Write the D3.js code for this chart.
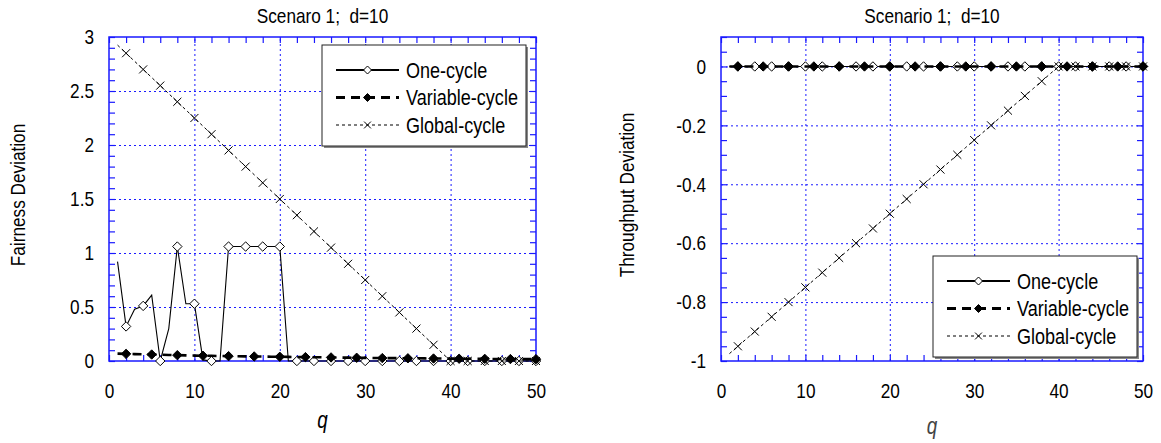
<!DOCTYPE html>
<html>
<head>
<meta charset="utf-8">
<script src="https://cdn.jsdelivr.net/npm/d3@7/dist/d3.min.js"></script>
<style>
body { margin: 0; background: #fff; }
text { font-family: "Liberation Sans", Arial, sans-serif; fill: #000; }
</style>
</head>
<body>
<script>
// q = 1..50
var q = d3.range(1, 51);

var fairOne = [0.92, 0.32, 0.48, 0.51, 0.61, 0, 0.30, 1.06, 0.53, 0.53,
    0.01, 0, 0, 1.06, 1.06, 1.06, 1.06, 1.06, 1.06, 1.06,
    0, 0, 0, 0, 0, 0, 0, 0, 0, 0,
    0, 0, 0, 0, 0, 0, 0, 0, 0, 0,
    0, 0, 0, 0, 0, 0, 0, 0, 0, 0];
var fairVar = [0.068, 0.066, 0.064, 0.062, 0.060, 0.058, 0.056, 0.054, 0.052, 0.050,
    0.049, 0.048, 0.046, 0.045, 0.044, 0.043, 0.042, 0.041, 0.040, 0.039,
    0.038, 0.037, 0.036, 0.035, 0.034, 0.033, 0.032, 0.031, 0.030, 0.029,
    0.028, 0.027, 0.027, 0.026, 0.025, 0.025, 0.024, 0.023, 0.023, 0.022,
    0.021, 0.021, 0.020, 0.020, 0.019, 0.019, 0.018, 0.018, 0.017, 0.017];
var fairGlob = [2.925, 2.85, 2.775, 2.7, 2.625, 2.55, 2.475, 2.4, 2.325, 2.25,
    2.175, 2.1, 2.025, 1.95, 1.875, 1.8, 1.725, 1.65, 1.575, 1.5,
    1.425, 1.35, 1.275, 1.2, 1.125, 1.05, 0.975, 0.9, 0.825, 0.75,
    0.675, 0.6, 0.525, 0.45, 0.375, 0.3, 0.225, 0.15, 0.075, 0,
    0, 0, 0, 0, 0, 0, 0, 0, 0, 0];

var thrOne = [0, 0, 0, 0, 0, 0, 0, 0, 0, 0,
    0, 0, 0, 0, 0, 0, 0, 0, 0, 0,
    0, 0, 0, 0, 0, 0, 0, 0, 0, 0,
    0, 0, 0, 0, 0, 0, 0, 0, 0, 0,
    0, 0, 0, 0, 0, 0, 0, 0, 0, 0];
var thrVar = [0, 0, 0, 0, 0, 0, 0, 0, 0, 0,
    0, 0, 0, 0, 0, 0, 0, 0, 0, 0,
    0, 0, 0, 0, 0, 0, 0, 0, 0, 0,
    0, 0, 0, 0, 0, 0, 0, 0, 0, 0,
    0, 0, 0, 0, 0, 0, 0, 0, 0, 0];
var thrGlob = [-0.975, -0.95, -0.925, -0.9, -0.875, -0.85, -0.825, -0.8, -0.775, -0.75,
    -0.725, -0.7, -0.675, -0.65, -0.625, -0.6, -0.575, -0.55, -0.525, -0.5,
    -0.475, -0.45, -0.425, -0.4, -0.375, -0.35, -0.325, -0.3, -0.275, -0.25,
    -0.225, -0.2, -0.175, -0.15, -0.125, -0.1, -0.075, -0.05, -0.025, 0,
    0, 0, 0, 0, 0, 0, 0, 0, 0, 0];

var seriesNames = ["One-cycle", "Variable-cycle", "Global-cycle"];
var xTicks = [0, 10, 20, 30, 40, 50];
var fairTicks = [0, 0.5, 1, 1.5, 2, 2.5, 3];
var thrTicks = [0, -0.2, -0.4, -0.6, -0.8, -1];

var blue = "#1a1aff";
var squeeze = 0.82; // the original figure text is condensed

// square diamond (matlab style)
var diamond = {
    draw: function(ctx, size) {
        var r = Math.sqrt(size / 2);
        ctx.moveTo(0, -r); ctx.lineTo(r, 0); ctx.lineTo(0, r); ctx.lineTo(-r, 0); ctx.closePath();
    }
};

var styles = [
    {width: 1.1, dash: null, legendWidth: 2, sym: diamond, size: 44, fill: "#fff", every: function(i) { return (i + 1) % 2 == 0; }},
    {width: 2.6, dash: "9,6", legendWidth: 2.8, sym: diamond, size: 44, fill: "#000", every: function(i) { return (i + 1) % 3 == 2; }},
    {width: 1, dash: "3,3", legendWidth: 1.2, sym: d3.symbolX, size: 44, fill: "none", every: function(i) { return (i + 1) % 2 == 0; }}
];

// condense text horizontally around its anchor
function narrow(sel) {
    sel.each(function() {
        var t = d3.select(this),
            x = +t.attr("x") || 0,
            y = +t.attr("y") || 0,
            tr = t.attr("transform") || "";
        t.attr("x", 0).attr("y", 0)
            .attr("transform", tr + " translate(" + x + "," + y + ") scale(" + squeeze + ",1)");
    });
}

var svg = d3.select("body").append("svg")
    .attr("width", 1161).attr("height", 443);

function panel(p) {
    var x = d3.scaleLinear().domain([0, 50]).range([p.left, p.right]),
        y = d3.scaleLinear().domain(p.ydom).range([p.bottom, p.top]),
        w = p.right - p.left,
        h = p.bottom - p.top,
        g = svg.append("g");

    // grid
    g.append("g").attr("transform", "translate(0," + p.bottom + ")")
        .call(d3.axisBottom(x).tickValues([10, 20, 30, 40]).tickSize(-h).tickFormat(""))
        .call(function(a) { a.select(".domain").remove(); })
        .selectAll("line").attr("stroke", blue).attr("stroke-dasharray", "2,3").attr("stroke-width", 1);
    g.append("g").attr("transform", "translate(" + p.left + ",0)")
        .call(d3.axisLeft(y).tickValues(p.grid).tickSize(-w).tickFormat(""))
        .call(function(a) { a.select(".domain").remove(); })
        .selectAll("line").attr("stroke", blue).attr("stroke-dasharray", "2,3").attr("stroke-width", 1);

    // minor ticks, all four sides, inward
    var minorX = d3.range(0, 51, 2), minorY = p.minor;
    [["axisBottom", p.bottom], ["axisTop", p.top]].forEach(function(s) {
        g.append("g").attr("transform", "translate(0," + s[1] + ")")
            .call(d3[s[0]](x).tickValues(minorX).tickSize(-6).tickFormat(""))
            .call(function(a) { a.select(".domain").remove(); })
            .selectAll("line").attr("stroke", blue).attr("stroke-width", 1.2);
    });
    [["axisLeft", p.left], ["axisRight", p.right]].forEach(function(s) {
        g.append("g").attr("transform", "translate(" + s[1] + ",0)")
            .call(d3[s[0]](y).tickValues(minorY).tickSize(-6).tickFormat(""))
            .call(function(a) { a.select(".domain").remove(); })
            .selectAll("line").attr("stroke", blue).attr("stroke-width", 1.2);
    });

    // tick labels
    g.append("g").attr("transform", "translate(0," + p.bottom + ")")
        .call(d3.axisBottom(x).tickValues(xTicks).tickSize(0).tickPadding(22).tickFormat(String))
        .call(function(a) { a.select(".domain").remove(); })
        .selectAll("text").attr("font-size", 21).attr("font-family", '"Liberation Sans", Arial, sans-serif').attr("fill", "#000")
        .call(narrow);
    g.append("g").attr("transform", "translate(" + p.left + ",0)")
        .call(d3.axisLeft(y).tickValues(p.ticks).tickSize(0).tickPadding(15).tickFormat(String))
        .call(function(a) { a.select(".domain").remove(); })
        .selectAll("text").attr("font-size", 21).attr("font-family", '"Liberation Sans", Arial, sans-serif').attr("fill", "#000")
        .call(narrow);

    // frame
    g.append("rect").attr("x", p.left).attr("y", p.top).attr("width", w).attr("height", h)
        .attr("fill", "none").attr("stroke", blue).attr("stroke-width", 1.5);

    // series
    var line = d3.line().x(function(d, i) { return x(q[i]); }).y(function(d) { return y(d); });
    p.series.forEach(function(vals, k) {
        var st = styles[k];
        g.append("path").datum(vals).attr("d", line)
            .attr("fill", "none").attr("stroke", "#000")
            .attr("stroke-width", st.width)
            .attr("stroke-dasharray", st.dash);
        var pts = [];
        vals.forEach(function(d, i) { if(st.every(i)) pts.push([q[i], d]); });
        g.selectAll(".m" + k).data(pts)
            .enter().append("path")
            .attr("class", "m" + k)
            .attr("transform", function(d) { return "translate(" + x(d[0]) + "," + y(d[1]) + ")"; })
            .attr("d", d3.symbol().type(st.sym).size(st.size))
            .attr("fill", st.fill).attr("stroke", "#000").attr("stroke-width", 1);
    });

    // titles
    svg.append("text").attr("x", (p.left + p.right) / 2).attr("y", 23)
        .attr("text-anchor", "middle").attr("font-size", 21).style("white-space", "pre")
        .text(p.title).call(narrow);
    svg.append("text").attr("transform", "translate(" + p.ylabX + "," + ((p.top + p.bottom) / 2 - 4) + ") rotate(-90)")
        .attr("text-anchor", "middle").attr("font-size", 21).text(p.ylabel).call(narrow);
    svg.append("text").attr("x", (p.left + p.right) / 2).attr("y", p.qY)
        .attr("text-anchor", "middle").attr("font-size", 23).attr("font-style", "italic")
        .style("fill", p.qColor).text("q").call(narrow);

    // legend
    var L = g.append("g").attr("transform", "translate(" + p.legX + "," + p.legY + ")");
    L.append("rect").attr("x", 2).attr("y", 2).attr("width", 204).attr("height", 101).attr("fill", "#888");
    L.append("rect").attr("width", 204).attr("height", 101).attr("fill", "#fff").attr("stroke", "#222").attr("stroke-width", 1);
    seriesNames.forEach(function(n, k) {
        var st = styles[k], yy = 25 + k * 27.5;
        L.append("line").attr("x1", 14).attr("x2", 77).attr("y1", yy).attr("y2", yy)
            .attr("stroke", "#000").attr("stroke-width", st.legendWidth).attr("stroke-dasharray", st.dash);
        L.append("path").attr("transform", "translate(45.5," + yy + ")")
            .attr("d", d3.symbol().type(st.sym).size(st.size - 12))
            .attr("fill", st.fill).attr("stroke", "#000").attr("stroke-width", 1);
        L.append("text").attr("x", 84).attr("y", yy + 7.5).attr("font-size", 22).text(n).call(narrow);
    });
}

panel({
    left: 109, right: 536, top: 37, bottom: 361,
    ydom: [0, 3], ticks: fairTicks, grid: [0.5, 1, 1.5, 2, 2.5],
    minor: d3.range(0, 31).map(function(i) { return i / 10; }),
    series: [fairOne, fairVar, fairGlob],
    title: "Scenaro 1;  d=10", ylabel: "Fairness Deviation", ylabX: 25,
    qY: 428, qColor: "#000", legX: 322, legY: 45
});
panel({
    left: 721, right: 1143, top: 37, bottom: 361,
    ydom: [-1, 0.1], ticks: thrTicks, grid: [-0.8, -0.6, -0.4, -0.2, 0],
    minor: d3.range(0, 23).map(function(i) { return -1 + i * 0.05; }),
    series: [thrOne, thrVar, thrGlob],
    title: "Scenario 1;  d=10", ylabel: "Throughput Deviation", ylabX: 634,
    qY: 434, qColor: "#444", legX: 933, legY: 256
});
</script>
</body>
</html>
